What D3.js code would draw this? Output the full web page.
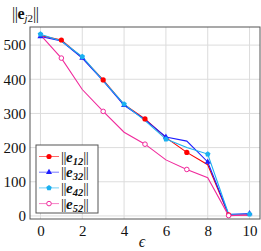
<!DOCTYPE html>
<html><head><meta charset="utf-8">
<script src="https://cdn.jsdelivr.net/npm/d3@7"></script>
<style>body{margin:0;background:#fff}svg{display:block}</style>
</head><body>
<script>
const xs = [0,1,2,3,4,5,6,7,8,9,10];
const e12 = [528, 515, 463, 398, 326, 284, 229, 186, 150, 3, 3];
const e32 = [525, 512, 462, 395, 324, 282, 231, 219, 158, 4, 7];
const e42 = [532, 512, 466, 396, 327, 279, 225, 200, 181, 5, 5];
const e52 = [530, 462, 370, 306, 245, 210, 164, 136, 112, 1, 3];
const xTicks = [0,2,4,6,8,10];
const yTicks = [0,100,200,300,400,500];
const seriesNames = ["12","32","42","52"];

const FONT = "'Liberation Serif', 'Times New Roman', serif";
const W=261,H=251;
const svg=d3.select("body").append("svg").attr("width",W).attr("height",H).style("font-family",FONT);
const x=d3.scaleLinear().domain([-0.5,10.5]).range([30,260]);
const y=d3.scaleLinear().domain([-9,553]).range([219,27]);

// grid
svg.append("g").selectAll("line").data(xTicks).join("line")
  .attr("x1",d=>x(d)).attr("x2",d=>x(d)).attr("y1",y.range()[1]).attr("y2",y.range()[0])
  .attr("stroke","#dcdcdc").attr("stroke-width",1);
svg.append("g").selectAll("line").data(yTicks).join("line")
  .attr("y1",d=>y(d)).attr("y2",d=>y(d)).attr("x1",x.range()[0]).attr("x2",x.range()[1])
  .attr("stroke","#dcdcdc").attr("stroke-width",1);

// axes
const xa=svg.append("g").attr("transform",`translate(0,${y.range()[0]})`)
  .call(d3.axisBottom(x).tickValues(xTicks).tickSize(0).tickPadding(3).tickFormat(d3.format("d")));
const ya=svg.append("g").attr("transform",`translate(${x.range()[0]},0)`)
  .call(d3.axisLeft(y).tickValues(yTicks).tickSize(0).tickPadding(4).tickFormat(d3.format("d")));
[xa,ya].forEach(a=>{a.attr("font-family",null).attr("font-size",null);a.select(".domain").remove();a.selectAll("text").style("font-family",FONT).style("font-size","15px").attr("fill","#111");});
xa.selectAll("text").attr("dy","0.9em");

const series=[
 {vals:e12,color:"#ff0000",mark:"circle",idx:[1,3,5,7,9]},
 {vals:e32,color:"#1e1eff",mark:"triangle",idx:[0,2,4,6,8,10]},
 {vals:e42,color:"#1ab0f0",mark:"pentagon",idx:[0,2,4,6,8,10]},
 {vals:e52,color:"#f02a9c",mark:"ocircle",idx:[1,3,5,7,9]}
];
const pent={draw(ctx,size){const r=Math.sqrt(size/2.4);for(let i=0;i<5;i++){const a=-Math.PI/2+i*2*Math.PI/5;const px=r*Math.cos(a),py=r*Math.sin(a);i?ctx.lineTo(px,py):ctx.moveTo(px,py);}ctx.closePath();}};
function drawMark(g,s,cx,cy){
  if(s.mark==="circle") g.append("circle").attr("cx",cx).attr("cy",cy).attr("r",2.6).attr("fill",s.color);
  else if(s.mark==="ocircle") g.append("circle").attr("cx",cx).attr("cy",cy).attr("r",2.3).attr("fill","#fff").attr("stroke",s.color).attr("stroke-width",1);
  else if(s.mark==="triangle") g.append("path").attr("d",d3.symbol(d3.symbolTriangle,16)()).attr("transform",`translate(${cx},${cy})`).attr("fill",s.color);
  else g.append("path").attr("d",d3.symbol(pent,20)()).attr("transform",`translate(${cx},${cy})`).attr("fill",s.color);
}
const line=d3.line().x((d,i)=>x(xs[i])).y(d=>y(d));
const plot=svg.append("g");
series.forEach(s=>{
  plot.append("path").attr("d",line(s.vals)).attr("fill","none").attr("stroke",s.color).attr("stroke-width",1.1);
});
series.forEach(s=>{
  s.idx.forEach(i=>drawMark(plot,s,x(xs[i]),y(s.vals[i])));
});

// frame
svg.append("rect").attr("x",x.range()[0]).attr("y",y.range()[1]).attr("width",x.range()[1]-x.range()[0]).attr("height",y.range()[0]-y.range()[1])
  .attr("fill","none").attr("stroke","#555").attr("stroke-width",1);

// legend
const lg=svg.append("g");
lg.append("rect").attr("x",36).attr("y",145).attr("width",62).attr("height",68).attr("fill","#fff").attr("stroke","#555").attr("stroke-width",1);
series.forEach((s,i)=>{
  const cy=156.5+i*15.7;
  lg.append("line").attr("x1",39).attr("x2",59).attr("y1",cy).attr("y2",cy).attr("stroke",s.color).attr("stroke-width",1).attr("stroke-opacity",0.6);
  drawMark(lg,s,49,cy);
  const t=lg.append("text").attr("x",61).attr("y",cy+5).style("font-size","15px").attr("fill","#111");
  t.append("tspan").text("||").style("letter-spacing","-0.5px");
  t.append("tspan").text("e").style("font-style","italic").style("font-weight","bold");
  t.append("tspan").text(seriesNames[i]).style("font-size","10.5px").attr("dy",3).style("font-weight","bold").style("font-style","italic");
  t.append("tspan").text("||").attr("dy",-3).style("letter-spacing","-0.5px");
});

// title (y label)
const tt=svg.append("text").attr("x",12).attr("y",19).style("font-size","16px").attr("fill","#111");
tt.append("tspan").text("||").style("letter-spacing","-0.5px");
tt.append("tspan").text("e").style("font-weight","bold");
tt.append("tspan").text("j").style("font-style","italic").style("font-size","11px").attr("dy",3);
tt.append("tspan").text("2").style("font-size","11px");
tt.append("tspan").text("||").attr("dy",-3).style("letter-spacing","-0.5px");

// x label
svg.append("text").attr("x",x(4.85)).attr("y",247).attr("text-anchor","middle").style("font-size","16px").style("font-style","italic").attr("fill","#111").text("ϵ");
</script>
</body></html>
